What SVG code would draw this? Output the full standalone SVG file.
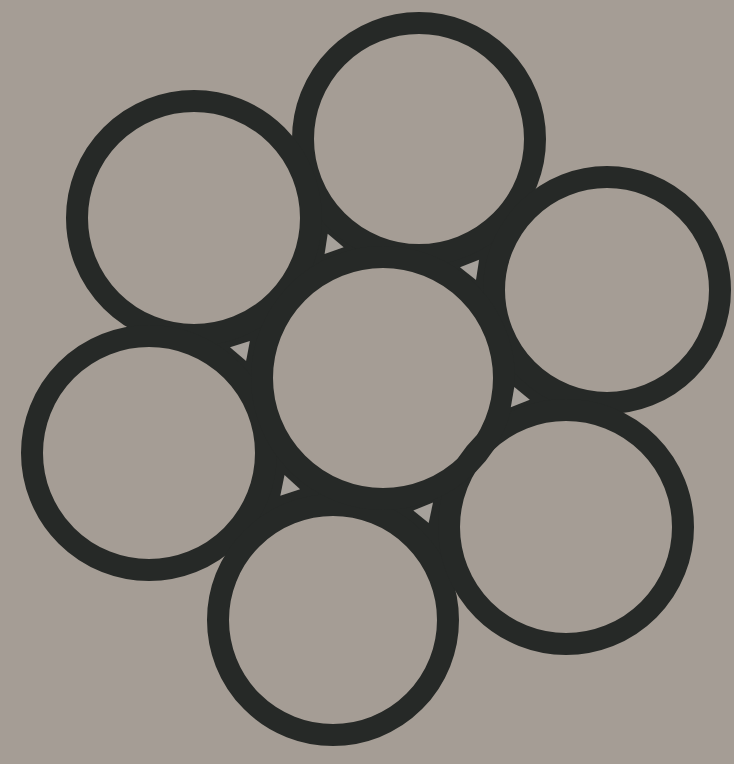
<svg xmlns="http://www.w3.org/2000/svg" width="734" height="764" viewBox="0 0 734 764">
<style>
.ring{fill:none;stroke:#262927;stroke-width:22}
.fill{fill:#a59d95}
.web{fill:#262927;stroke:#262927;stroke-width:4;stroke-linejoin:round}
.gap{fill:#a6a19b}
</style>
<rect width="734" height="764" fill="#a59d95"/>
<g id="connectors">
<polygon class="web" points="419,139 194,218 383,378"/>
<polygon class="web" points="194,218 149,453 383,378"/>
<polygon class="web" points="419,139 607,290 383,378"/>
<polygon class="web" points="607,290 566,527 383,378"/>
<polygon class="web" points="383,378 333,620 566,527"/>
<polygon class="web" points="149,453 333,620 383,378"/>
</g>
<g id="fills">
<circle class="fill" cx="419" cy="139" r="116"/>
<circle class="fill" cx="194" cy="218" r="117"/>
<circle class="fill" cx="607" cy="290" r="113"/>
<circle class="fill" cx="149" cy="453" r="117"/>
<circle class="fill" cx="333" cy="620" r="115"/>
<circle class="fill" cx="566" cy="527" r="117"/>
<circle class="fill" cx="383" cy="378" r="121"/>
</g>
<g id="nodes">
<g id="top"><circle class="ring" cx="419" cy="139" r="116"/></g>
<g id="upper-left"><circle class="ring" cx="194" cy="218" r="117"/></g>
<g id="right"><circle class="ring" cx="607" cy="290" r="113"/></g>
<g id="left"><circle class="ring" cx="149" cy="453" r="117"/></g>
<g id="bottom"><circle class="ring" cx="333" cy="620" r="115"/></g>
<g id="bottom-right"><circle class="ring" cx="566" cy="527" r="117"/></g>
<g id="center"><circle class="ring" cx="383" cy="378" r="121"/></g>
</g>
<g id="gaps">
<polygon class="gap" points="324.6,254.0 343.7,247.3 327.7,233.7"/>
<polygon class="gap" points="246.1,360.9 249.9,340.9 230.0,347.3"/>
<polygon class="gap" points="476.0,280.1 460.0,267.2 479.1,259.7"/>
<polygon class="gap" points="510.8,407.2 514.3,387.1 529.8,399.7"/>
<polygon class="gap" points="428.7,523.1 433.0,502.5 413.3,510.5"/>
<polygon class="gap" points="300.1,489.3 284.5,475.1 280.3,495.7"/>
</g>
</svg>
